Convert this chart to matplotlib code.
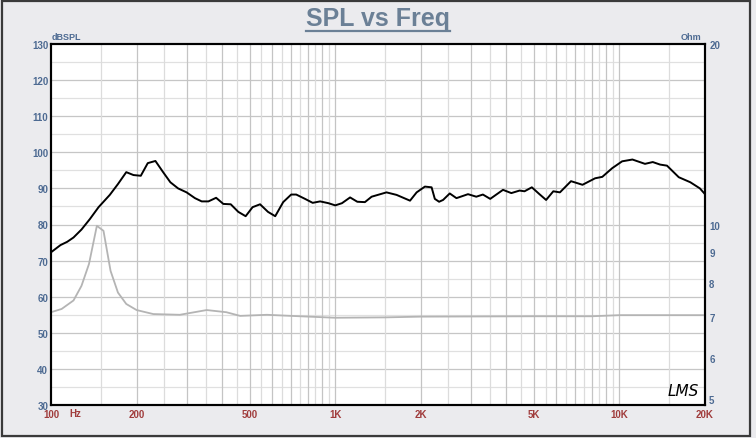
import numpy as np
import matplotlib
matplotlib.use("Agg")
import matplotlib.pyplot as plt
from matplotlib.patches import Rectangle
from matplotlib.lines import Line2D

plt.rcParams['font.family'] = ['Liberation Sans', 'DejaVu Sans']

# SPL response (black)
spl_freq = [100, 108, 114, 120, 128, 137, 147, 161, 172, 184, 195, 207, 219, 233, 248, 263, 280,
            300, 321, 339, 358, 381, 404, 429, 456, 484, 512, 544, 580, 615, 656, 700, 729, 783,
            833, 885, 947, 1000, 1056, 1128, 1196, 1272, 1343, 1515, 1644, 1833, 1934, 2068, 2183,
            2241, 2320, 2396, 2529, 2670, 2932, 3136, 3308, 3510, 3893, 4165, 4452, 4635, 4918,
            5231, 5520, 5852, 6175, 6754, 7414, 8210, 8703, 9430, 10220, 11110, 12300, 13100,
            13900, 14700, 16170, 17760, 19190, 20000]
spl_db = [72.3, 74.3, 75.2, 76.4, 78.6, 81.5, 84.8, 88.2, 91.2, 94.5, 93.7, 93.5, 97.0, 97.6, 94.5,
          91.7, 90.0, 88.9, 87.3, 86.4, 86.4, 87.4, 85.7, 85.6, 83.5, 82.3, 84.8, 85.6, 83.5, 82.3,
          86.2, 88.3, 88.3, 87.1, 86.0, 86.4, 85.9, 85.3, 85.9, 87.5, 86.3, 86.2, 87.7, 88.9, 88.2,
          86.6, 88.9, 90.5, 90.3, 87.1, 86.3, 86.8, 88.6, 87.3, 88.4, 87.7, 88.3, 87.1, 89.6, 88.7,
          89.4, 89.2, 90.3, 88.4, 86.8, 89.2, 88.9, 92.0, 91.0, 92.8, 93.2, 95.6, 97.5, 98.0, 96.8,
          97.3, 96.6, 96.3, 93.1, 91.7, 90.0, 88.4]

# impedance (grey), ohm
imp_freq = [100, 109, 120, 128, 136, 145, 153, 162, 172, 184, 200, 229, 284, 353, 414, 463, 575,
            700, 1000, 1500, 2000, 5000, 8000, 10000, 20000]
imp_ohm = [7.14, 7.23, 7.47, 7.90, 8.59, 9.95, 9.76, 8.37, 7.70, 7.37, 7.20, 7.09, 7.07, 7.20, 7.14,
           7.04, 7.07, 7.04, 6.99, 7.00, 7.02, 7.03, 7.03, 7.06, 7.06]

x_ticks = [100, 200, 500, 1000, 2000, 5000, 10000, 20000]
x_labels = ['100', '200', '500', '1K', '2K', '5K', '10K', '20K']
db_ticks = list(range(30, 131, 10))
ohm_ticks = [5, 6, 7, 8, 9, 10, 20]

W, H = 756, 439
blue = '#4d6a92'
red = '#a03c3c'
bg = '#ebebee'
fs = 7

fig = plt.figure(figsize=(W / 100, H / 100), dpi=100, facecolor=bg)
fig.patches.append(Rectangle((2 / W, 2 / H), 748 / W, 435 / H, transform=fig.transFigure,
                             fill=False, edgecolor='#3a3a3a', linewidth=1.6))

ax = fig.add_axes([51 / W, (H - 406) / H, (705 - 51) / W, (406 - 45) / H])
ax.set_facecolor('white')
ax.set_xscale('log')
ax.set_xlim(100, 20000)
ax.set_ylim(30, 130)

# grid
for d in np.arange(35, 130, 10):
    ax.axhline(d, color='#e0e0e0', lw=0.9, zorder=0)
for d in range(40, 130, 10):
    ax.axhline(d, color='#c6c6c6', lw=0.9, zorder=0)
for dec in [100, 1000, 10000]:
    for m in np.arange(1.5, 10, 1.0):
        if dec * m < 20000:
            ax.axvline(dec * m, color='#dcdcdc', lw=0.9, zorder=0)
    for m in range(2, 11):
        if dec * m < 20000:
            ax.axvline(dec * m, color='#c4c4c4', lw=0.9, zorder=0)

ax.plot(spl_freq, spl_db, color='black', lw=1.4, zorder=3)

ax.set_xticks(x_ticks)
ax.set_xticklabels(x_labels)
ax.xaxis.set_minor_locator(matplotlib.ticker.NullLocator())
ax.set_yticks(db_ticks)
ax.tick_params(axis='x', length=0, pad=3, labelsize=fs, labelcolor=red)
ax.tick_params(axis='y', length=0, pad=2, labelsize=fs, labelcolor=blue)
for lab in ax.get_xticklabels() + ax.get_yticklabels():
    lab.set_fontweight('bold')
for s in ax.spines.values():
    s.set_color('black')
    s.set_linewidth(1.5)

ax2 = ax.twinx()
ax2.set_yscale('log')
ax2.set_ylim(5, 20)
ax2.plot(imp_freq, imp_ohm, color='#b4b4b4', lw=1.3, zorder=2)
ax2.set_yticks(ohm_ticks)
ax2.set_yticklabels([str(t) for t in ohm_ticks])
ax2.yaxis.set_minor_locator(matplotlib.ticker.NullLocator())
ax2.tick_params(axis='y', length=0, pad=3, labelsize=fs, labelcolor=blue)
for lab in ax2.get_yticklabels():
    lab.set_fontweight('bold')
ax2.get_yticklabels()[0].set_verticalalignment('bottom')
for s in ax2.spines.values():
    s.set_linewidth(1.5)

fig.text(69 / W, 1 - 414 / H, 'Hz', color=red, fontsize=fs, fontweight='bold', va='center')
fig.text(52 / W, 1 - 38 / H, 'dBSPL', color=blue, fontsize=6.5, fontweight='bold', va='center')
fig.text(701 / W, 1 - 37 / H, 'Ohm', color=blue, fontsize=6.5, fontweight='bold', va='center', ha='right')
ax.text(0.99, 0.02, 'LMS', transform=ax.transAxes, ha='right', va='bottom', fontsize=11,
        style='italic', family='DejaVu Sans', fontweight='light', color='black', zorder=5)

title = fig.text(378 / W, 1 - 19 / H, 'SPL vs Freq', color='#6b8096', fontsize=18,
                 fontweight='bold', ha='center', va='center')
fig.canvas.draw()
bb = title.get_window_extent()
uy = (H - 32) / H
fig.lines.append(Line2D([bb.x0 / W, bb.x1 / W], [uy, uy], transform=fig.transFigure,
                        color='#6b8096', lw=1.6))

fig.savefig('out.png', dpi=100, facecolor=bg)
